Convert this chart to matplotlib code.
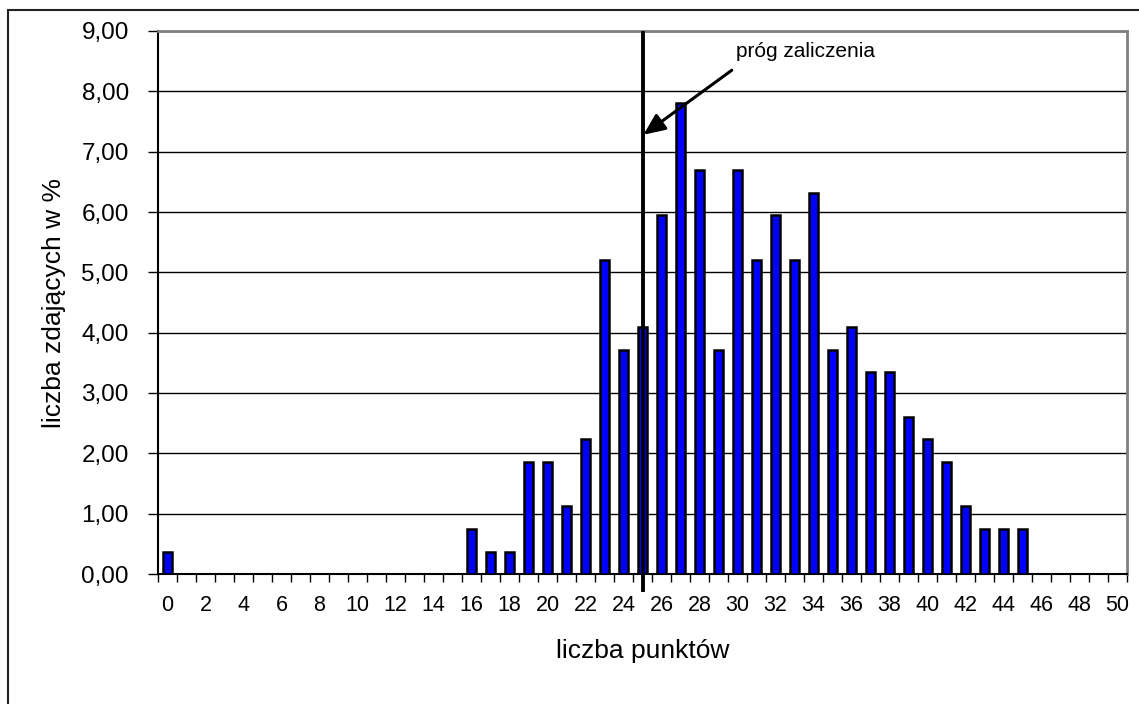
import numpy as np
import matplotlib.pyplot as plt
from matplotlib.patches import Rectangle

plt.rcParams['font.family'] = ['Liberation Sans', 'DejaVu Sans']

# liczba punktów 0..50 i odsetek zdających (%)
punkty = list(range(0, 51))
procent = [0.37, 0, 0, 0, 0, 0, 0, 0, 0, 0,
           0, 0, 0, 0, 0, 0, 0.74, 0.37, 0.37, 1.86,
           1.86, 1.12, 2.23, 5.20, 3.72, 4.09, 5.95, 7.81, 6.69, 3.72,
           6.69, 5.20, 5.95, 5.20, 6.32, 3.72, 4.09, 3.35, 3.35, 2.60,
           2.23, 1.86, 1.12, 0.74, 0.74, 0.74, 0, 0, 0, 0,
           0]
prog = 25
y_ticks = np.arange(0, 10, 1)

fig = plt.figure(figsize=(11.39, 7.04), dpi=100)
ax = fig.add_axes([158 / 1139, 1 - 574 / 704, 969 / 1139, 543 / 704])

nonzero = [(p, v) for p, v in zip(punkty, procent) if v > 0]
ax.bar([p for p, _ in nonzero], [v for _, v in nonzero], width=0.47,
       color='#0000ff', edgecolor='black', linewidth=1.8, zorder=3)

ax.set_xlim(-0.5, 50.5)
ax.set_ylim(0, 9)

# ticks na granicach kategorii, etykiety co 2
ax.set_xticks(np.arange(-0.5, 51, 1))
ax.set_xticklabels([])
ax.set_xticks(punkty[::2], minor=True)
ax.set_xticklabels([str(p) for p in punkty[::2]], minor=True, fontsize=15.5)
ax.tick_params(axis='x', which='major', direction='out', length=6, width=1)
ax.tick_params(axis='x', which='minor', length=0, pad=15)

ax.set_yticks(y_ticks)
ax.set_yticklabels([f"{v:.2f}".replace('.', ',') for v in y_ticks], fontsize=17.5)
ax.tick_params(axis='y', direction='out', length=7, width=1, pad=14)

ax.grid(axis='y', color='black', linewidth=1, zorder=0)
ax.set_axisbelow(True)

for s in ['top', 'right']:
    ax.spines[s].set_color('#808080')
    ax.spines[s].set_linewidth(2)
for s in ['left', 'bottom']:
    ax.spines[s].set_linewidth(1.5)

ax.set_xlabel("liczba punktów", fontsize=19, labelpad=17)
ax.set_ylabel("liczba zdających w %", fontsize=19, labelpad=11)

# próg zaliczenia
ax.plot([prog, prog], [-0.27, 8.97], color='black', linewidth=2.8,
        clip_on=False, zorder=5)
ax.annotate("", xy=(prog + 0.05, 7.28), xytext=(29.7, 8.35),
            arrowprops=dict(arrowstyle='-|>,head_length=0.5,head_width=0.22',
                            color='black', lw=2.2, mutation_scale=26,
                            shrinkA=0, shrinkB=0))
ax.text(33.6, 8.66, "próg zaliczenia", ha='center', va='center', fontsize=15)

# ramka wykresu (lewa i górna krawędź)
fig.patches.append(Rectangle((8 / 1139, -0.1), 1.2, 1 - 10 / 704 + 0.1,
                             transform=fig.transFigure, fill=False,
                             edgecolor='#222222', linewidth=1.5))

fig.savefig("out.png", dpi=100)
